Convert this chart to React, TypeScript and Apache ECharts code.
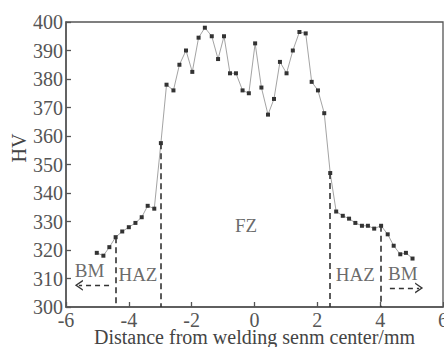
import React, { useEffect, useRef } from "react";
import * as echarts from "echarts";

// Distance from weld seam center (mm)
const distances = [
  -5.02, -4.81, -4.62, -4.42, -4.21, -4.0, -3.79, -3.59, -3.4, -3.19, -2.98,
  -2.8, -2.58, -2.39, -2.18, -1.98, -1.78, -1.58, -1.36, -1.16,
  -0.97, -0.78, -0.59, -0.38, -0.18, 0.02, 0.22, 0.43, 0.62, 0.81, 1.02, 1.22,
  1.43, 1.63, 1.82, 2.02, 2.22, 2.41,
  2.6, 2.81, 3.01, 3.21, 3.42, 3.61, 3.81, 4.03, 4.24, 4.43, 4.64, 4.82, 5.03,
];

// Microhardness HV
const hardness = [
  319, 318, 321, 324.5, 326.5, 328, 329.5, 331.5, 335.5, 334.5, 357.5,
  378, 376, 385, 390, 382.5, 394.5, 398, 395, 387,
  395, 382, 382, 376, 375, 392.5, 377, 367.5, 373, 386, 382, 390,
  396.5, 396, 379, 376, 368, 347,
  333.5, 332, 331, 329.5, 328.5, 328.5, 327.5, 328.5, 325.5, 321.5, 318.5, 319, 317,
];

// Zone boundary positions (mm)
const boundaries = [-4.42, -2.98, 2.41, 4.03];

// Zone labels
const zoneLabels = ["BM", "HAZ", "FZ", "HAZ", "BM"];
const zoneLabelX = [-5.25, -3.71, -0.27, 3.21, 4.72];
const zoneLabelY = [312.7, 311.3, 328.5, 311.3, 311.9];

// BM arrows (start, end)
const arrowStart = [[-4.63, 307.6], [4.31, 306.7]];
const arrowEnd = [[-5.59, 307.6], [5.24, 306.7]];

const FONT = "'Liberation Serif', 'DejaVu Serif', serif";
const chevron = "path://M0,10 L5,0 L10,10 L8.6,10 L5,2.8 L1.4,10 Z";

export default function App() {
  const ref = useRef<HTMLDivElement>(null);

  useEffect(() => {
    if (!ref.current) return;
    const chart = echarts.init(ref.current, undefined, { renderer: "svg" });

    const boundaryLines = boundaries.map((bx) => {
      const idx = distances.indexOf(bx);
      const top = hardness[idx];
      return [{ coord: [bx, top] }, { coord: [bx, 300] }];
    });

    const arrowLines = arrowStart.map((s, i) => [
      { coord: s },
      { coord: arrowEnd[i] },
    ]);

    chart.setOption({
      animation: false,
      backgroundColor: "#fff",
      grid: {
        left: 66,
        right: 1,
        top: 22,
        bottom: 40,
        show: true,
        borderColor: "#555",
        borderWidth: 1.3,
        outerBoundsMode: "none",
        containLabel: false,
      },
      xAxis: {
        type: "value",
        min: -6,
        max: 6,
        interval: 2,
        name: "Distance from welding senm center/mm",
        nameLocation: "middle",
        nameGap: 20,
        nameMoveOverlap: false,
        nameTextStyle: { fontFamily: FONT, fontSize: 20, color: "#444", verticalAlign: "top" },
        axisLine: { show: true, onZero: false, lineStyle: { color: "#555", width: 1.5 } },
        axisTick: { show: true, inside: true, length: 5, lineStyle: { color: "#555", width: 1.3 } },
        axisLabel: { fontFamily: FONT, fontSize: 20, color: "#555", margin: 3, hideOverlap: false },
        splitLine: { show: false },
      },
      yAxis: {
        type: "value",
        min: 300,
        max: 400,
        interval: 10,
        axisLine: { show: true, onZero: false, lineStyle: { color: "#555", width: 1.5 } },
        axisTick: { show: true, inside: true, length: 5, lineStyle: { color: "#555", width: 1.3 } },
        axisLabel: { fontFamily: FONT, fontSize: 20, color: "#555", margin: 3 },
        splitLine: { show: false },
      },
      graphic: [
        {
          type: "text",
          x: 19,
          y: 148,
          rotation: Math.PI / 2,
          style: {
            text: "HV",
            fontFamily: FONT,
            fontSize: 20,
            fill: "#444",
            textAlign: "center",
            textVerticalAlign: "middle",
          },
        },
      ],
      series: [
        {
          type: "line",
          data: distances.map((d, i) => [d, hardness[i]]),
          symbol: "rect",
          symbolSize: 4,
          itemStyle: { color: "#333" },
          lineStyle: { color: "#999", width: 0.9 },
          z: 3,
        },
        {
          type: "line",
          data: [],
          markLine: {
            silent: true,
            symbol: ["none", "none"],
            label: { show: false },
            lineStyle: { color: "#333", width: 1.6, type: [6, 4] },
            data: boundaryLines,
          },
        },
        {
          type: "line",
          data: [],
          markLine: {
            silent: true,
            symbol: ["none", chevron],
            symbolSize: [11, 8],
            label: { show: false },
            lineStyle: { color: "#333", width: 1.4, type: [5, 4] },
            data: arrowLines,
          },
        },
        {
          type: "scatter",
          symbolSize: 0.1,
          itemStyle: { color: "transparent" },
          data: zoneLabels.map((t, i) => ({ name: t, value: [zoneLabelX[i], zoneLabelY[i]] })),
          label: {
            show: true,
            position: "inside",
            formatter: "{b}",
            fontFamily: FONT,
            fontSize: 19,
            color: "#444",
          },
        },
      ],
    });

    return () => chart.dispose();
  }, []);

  return (
    <div
      ref={ref}
      style={{ position: "fixed", left: 0, top: 0, width: 444, height: 347 }}
    />
  );
}
